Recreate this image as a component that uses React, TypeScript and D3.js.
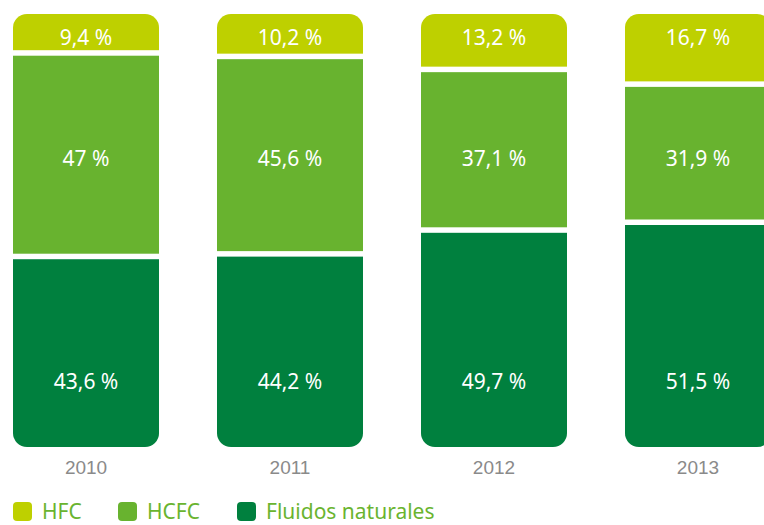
import { useRef, useEffect } from 'react';
import * as d3 from 'd3';

const YEARS = ['2010', '2011', '2012', '2013'];
const SERIES = ['Fluidos naturales', 'HCFC', 'HFC'];
const NATURAL = [43.6, 44.2, 49.7, 51.5];
const HCFC = [47, 45.6, 37.1, 31.9];
const HFC = [9.4, 10.2, 13.2, 16.7];
const LEGEND = ['HFC', 'HCFC', 'Fluidos naturales'];

const WIDTH = 764;
const HEIGHT = 525;
const TOP = 14;
const BOTTOM = 447;
const COLORS: Record<string, string> = {
  HFC: '#bed000',
  HCFC: '#68b32f',
  'Fluidos naturales': '#00803e',
};
// where (in % units) each value label sits inside its bar
const LABEL_AT: Record<string, number> = { 'Fluidos naturales': 13.4, HCFC: 64.9, HFC: 92.8 };
const LEGEND_OFFSETS = [0, 105, 224];
const FONT = '"Noto Sans", sans-serif';

function App() {
  const svgRef = useRef<SVGSVGElement>(null);

  useEffect(() => {
    const svg = d3.select(svgRef.current);
    svg.selectAll('*').remove();

    const rows = YEARS.map((year, i) => ({
      year,
      'Fluidos naturales': NATURAL[i],
      HCFC: HCFC[i],
      HFC: HFC[i],
    }));

    const stack = d3.stack<any>().keys(SERIES)(rows);

    const x = d3.scaleBand().domain(YEARS).range([13, 771]).paddingInner(0.284).paddingOuter(0);
    const y = d3.scaleLinear().domain([0, 100]).range([BOTTOM, TOP]);
    const fmt = (v: number) => String(v).replace('.', ',') + ' %';

    // rounded clip per bar
    const defs = svg.append('defs');
    YEARS.forEach((yr, i) => {
      defs.append('clipPath').attr('id', `bar-clip-${i}`)
        .append('rect')
        .attr('x', x(yr)!)
        .attr('y', y(100))
        .attr('width', x.bandwidth())
        .attr('height', y(0) - y(100))
        .attr('rx', 14);
    });

    const bars = svg.append('g')
      .selectAll('g')
      .data(YEARS)
      .join('g')
      .attr('clip-path', (_, i) => `url(#bar-clip-${i})`);

    bars.each(function (yr, i) {
      const g = d3.select(this);
      stack.forEach(layer => {
        const d = layer[i];
        g.append('rect')
          .attr('x', x(yr)!)
          .attr('y', y(d[1]))
          .attr('width', x.bandwidth())
          .attr('height', y(d[0]) - y(d[1]))
          .attr('fill', COLORS[layer.key]);
      });
      // white separators between segments
      stack.slice(0, 2).forEach(layer => {
        const b = y(layer[i][1]);
        g.append('rect')
          .attr('x', x(yr)!)
          .attr('y', b - 4.5)
          .attr('width', x.bandwidth())
          .attr('height', 5.5)
          .attr('fill', '#fff');
      });
    });

    // value labels
    const labels = svg.append('g')
      .attr('font-family', FONT)
      .attr('font-size', 21)
      .attr('fill', '#fff')
      .attr('text-anchor', 'middle');
    stack.forEach(layer => {
      labels.selectAll(null)
        .data(layer)
        .join('text')
        .attr('x', d => x(d.data.year)! + x.bandwidth() / 2)
        .attr('y', y(LABEL_AT[layer.key]))
        .text(d => fmt(d.data[layer.key]));
    });

    // year labels
    svg.append('g')
      .selectAll('text')
      .data(YEARS)
      .join('text')
      .attr('x', d => x(d)! + x.bandwidth() / 2)
      .attr('y', BOTTOM + 27)
      .attr('text-anchor', 'middle')
      .attr('font-family', '"Liberation Sans", Arial, sans-serif')
      .attr('font-size', 19)
      .attr('fill', '#8a8a8a')
      .text(d => d);

    // legend
    const legend = svg.append('g').attr('transform', `translate(13, 502)`);
    LEGEND.forEach((name, i) => {
      const lg = legend.append('g').attr('transform', `translate(${LEGEND_OFFSETS[i]}, 0)`);
      lg.append('rect')
        .attr('width', 19).attr('height', 19)
        .attr('rx', 4).attr('fill', COLORS[name]);
      lg.append('text')
        .attr('x', 29).attr('y', 17)
        .attr('font-family', FONT)
        .attr('font-size', 21)
        .attr('fill', '#6ab42f')
        .text(name);
    });
  }, []);

  return (
    <svg
      ref={svgRef}
      width={WIDTH}
      height={HEIGHT}
      style={{ position: 'absolute', left: 0, top: 0, display: 'block', background: '#fff' }}
    />
  );
}

export default App;
